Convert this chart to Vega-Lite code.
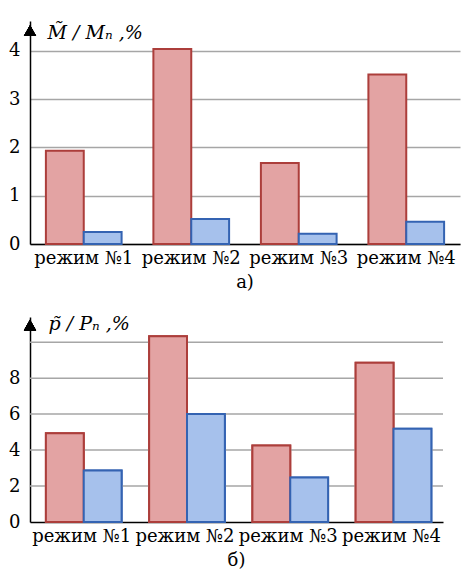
{
  "$schema": "https://vega.github.io/schema/vega-lite/v6.json",
  "padding": {"left": 8, "top": 21, "right": 5, "bottom": 2},
  "background": "white",
  "datasets": {
    "a": [
      {"mode": "режим №1", "series": "s1", "value": 1.93},
      {"mode": "режим №1", "series": "s2", "value": 0.25},
      {"mode": "режим №2", "series": "s1", "value": 4.04},
      {"mode": "режим №2", "series": "s2", "value": 0.52},
      {"mode": "режим №3", "series": "s1", "value": 1.68},
      {"mode": "режим №3", "series": "s2", "value": 0.21},
      {"mode": "режим №4", "series": "s1", "value": 3.51},
      {"mode": "режим №4", "series": "s2", "value": 0.46}
    ],
    "b": [
      {"mode": "режим №1", "series": "s1", "value": 4.94},
      {"mode": "режим №1", "series": "s2", "value": 2.87},
      {"mode": "режим №2", "series": "s1", "value": 10.33},
      {"mode": "режим №2", "series": "s2", "value": 6.01},
      {"mode": "режим №3", "series": "s1", "value": 4.26},
      {"mode": "режим №3", "series": "s2", "value": 2.48},
      {"mode": "режим №4", "series": "s1", "value": 8.86},
      {"mode": "режим №4", "series": "s2", "value": 5.18}
    ]
  },
  "config": {
    "font": "DejaVu Serif",
    "view": {"stroke": null},
    "axis": {
      "labelFont": "DejaVu Serif",
      "labelFontSize": 18,
      "labelColor": "black",
      "domainColor": "black",
      "domainWidth": 1.5,
      "ticks": false,
      "gridColor": "#a6a6a6",
      "gridWidth": 1.5,
      "titleFont": "DejaVu Serif",
      "titleFontSize": 19,
      "titleFontStyle": "italic",
      "titleFontWeight": "normal",
      "titleColor": "black"
    },
    "title": {"font": "DejaVu Serif", "fontSize": 18, "fontWeight": "normal", "color": "black", "orient": "bottom", "offset": 7},
    "concat": {"spacing": 22}
  },
  "vconcat": [
    {
      "width": 430,
      "height": 223,
      "title": {"text": "а)", "orient": "bottom"},
      "data": {"name": "a"},
      "layer": [
        {
          "mark": {"type": "bar", "strokeWidth": 2},
          "encoding": {
            "x": {"field": "mode", "type": "nominal", "sort": null,
                  "scale": {"paddingInner": 0, "paddingOuter": 0},
                  "axis": {"title": null, "labelAngle": 0, "labelPadding": 5, "grid": false}},
            "xOffset": {"field": "series", "type": "nominal", "scale": {"paddingInner": 0, "paddingOuter": 0.42}},
            "y": {"field": "value", "type": "quantitative",
                  "scale": {"domain": [0, 4.62], "nice": false},
                  "axis": {"values": [0, 1, 2, 3, 4], "labelPadding": 10, "grid": true,
                           "title": "M̃ / Mₙ ,%", "titleAngle": 0, "titleAlign": "left", "titleBaseline": "top",
                           "titleX": 17, "titleY": 2}},
            "color": {"field": "series", "type": "nominal", "legend": null,
                      "scale": {"domain": ["s1", "s2"], "range": ["#e3a3a3", "#a6c1ec"]}},
            "stroke": {"field": "series", "type": "nominal", "legend": null,
                       "scale": {"domain": ["s1", "s2"], "range": ["#ac3e3b", "#3463b2"]}}
          }
        },
        {
          "mark": {"type": "point", "shape": "triangle-up", "filled": true, "color": "black", "size": 150, "opacity": 1},
          "encoding": {
            "x": {"datum": "режим №1", "type": "nominal", "bandPosition": 0},
            "y": {"datum": 4.42, "type": "quantitative"}
          }
        }
      ]
    },
    {
      "width": 413,
      "height": 205,
      "title": {"text": "б)", "orient": "bottom"},
      "data": {"name": "b"},
      "layer": [
        {
          "mark": {"type": "bar", "strokeWidth": 2},
          "encoding": {
            "x": {"field": "mode", "type": "nominal", "sort": null,
                  "scale": {"paddingInner": 0, "paddingOuter": 0},
                  "axis": {"title": null, "labelAngle": 0, "labelPadding": 5, "grid": false}},
            "xOffset": {"field": "series", "type": "nominal", "scale": {"paddingInner": 0, "paddingOuter": 0.415}},
            "y": {"field": "value", "type": "quantitative",
                  "scale": {"domain": [0, 11.4], "nice": false},
                  "axis": {"values": [0, 2, 4, 6, 8], "labelPadding": 10, "grid": false,
                           "title": "p̃ / Pₙ ,%", "titleAngle": 0, "titleAlign": "left", "titleBaseline": "top",
                           "titleX": 18, "titleY": -3}},
            "color": {"field": "series", "type": "nominal", "legend": null,
                      "scale": {"domain": ["s1", "s2"], "range": ["#e3a3a3", "#a6c1ec"]}},
            "stroke": {"field": "series", "type": "nominal", "legend": null,
                       "scale": {"domain": ["s1", "s2"], "range": ["#ac3e3b", "#3463b2"]}}
          }
        },
        {
          "data": {"values": [{"g": 2}, {"g": 4}, {"g": 6}, {"g": 8}, {"g": 10}]},
          "mark": {"type": "rule", "color": "#a6a6a6", "strokeWidth": 1.5},
          "encoding": {"y": {"field": "g", "type": "quantitative"}}
        },
        {
          "mark": {"type": "bar", "strokeWidth": 2},
          "encoding": {
            "x": {"field": "mode", "type": "nominal", "sort": null},
            "xOffset": {"field": "series", "type": "nominal"},
            "y": {"field": "value", "type": "quantitative"},
            "color": {"field": "series", "type": "nominal", "legend": null},
            "stroke": {"field": "series", "type": "nominal", "legend": null}
          }
        },
        {
          "mark": {"type": "point", "shape": "triangle-up", "filled": true, "color": "black", "size": 150, "opacity": 1},
          "encoding": {
            "x": {"datum": "режим №1", "type": "nominal", "bandPosition": 0},
            "y": {"datum": 10.95, "type": "quantitative"}
          }
        }
      ]
    }
  ]
}
